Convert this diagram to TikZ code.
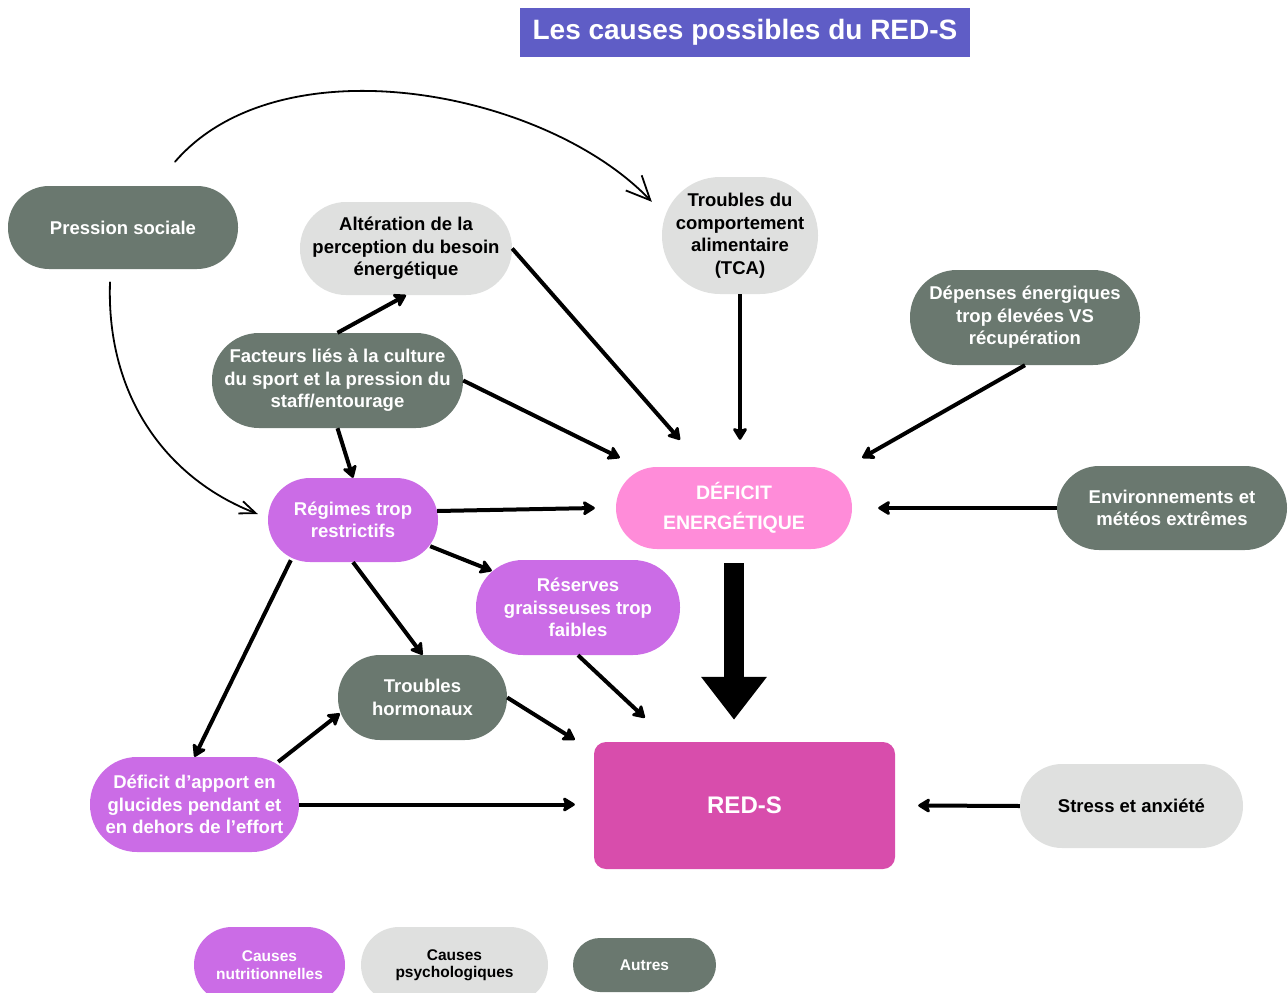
\documentclass[tikz,border=0pt]{standalone}
\usepackage{fontspec}
\setmainfont{Liberation Sans}
\usetikzlibrary{arrows.meta,calc}
\definecolor{titleblue}{RGB}{95,93,198}
\definecolor{othergrey}{RGB}{106,120,111}
\definecolor{psygrey}{RGB}{223,224,223}
\definecolor{nutpurple}{RGB}{203,108,230}
\definecolor{defpink}{RGB}{255,140,217}
\definecolor{redspink}{RGB}{216,77,172}
\begin{document}
\begin{tikzpicture}[x=1pt,y=-1pt,
		cause/.style={align=center, inner sep=0pt, font=\bfseries\fontsize{18.5}{22.5}\selectfont},
		nut/.style={cause, fill=nutpurple, text=white},
		psy/.style={cause, fill=psygrey, text=black},
		other/.style={cause, fill=othergrey, text=white},
		legend/.style={font=\bfseries\fontsize{15.5}{17.5}\selectfont},
		arr/.style={line width=4pt, -{Stealth[length=14pt,width=17pt,inset=3pt,round]}},
		thinarr/.style={line width=1.8pt, line cap=round},
		bigarr/.style={line width=20pt, -{Triangle[length=43pt,width=63pt]}}]
			\useasboundingbox (0,0) rectangle (1288,993);
			\node	(title) at (745,32.5) [fill=titleblue, text=white, minimum width=450pt, minimum height=49pt, font=\bfseries\fontsize{28}{30}\selectfont] {Les causes possibles du RED-S};
			
			\node	(soc) at (123,227.5) [other, minimum width=230pt, minimum height=83pt, rounded corners=41pt] {Pression sociale};
			\node	(alt) at (406,248.5) [psy, minimum width=212pt, minimum height=93pt, rounded corners=46pt] {Altération de la\\perception du besoin\\énergétique};
			\node	(tca) at (740,235.5) [psy, minimum width=156pt, minimum height=117pt, rounded corners=58pt] {Troubles du\\comportement\\alimentaire\\(TCA)};
			\node	(dep) at (1025,317.5) [other, minimum width=230pt, minimum height=95pt, rounded corners=47pt] {Dépenses énergiques\\trop élevées VS\\récupération};
			\node	(fac) at (337.5,380.5) [other, minimum width=251pt, minimum height=95pt, rounded corners=47pt] {Facteurs liés à la culture\\du sport et la pression du\\staff/entourage};
			\node	(def) at (734,508) [fill=defpink, text=white, align=center, minimum width=236pt, minimum height=82pt, rounded corners=41pt, font=\bfseries\fontsize{19.5}{30}\selectfont] {DÉFICIT\\ENERGÉTIQUE};
			\node	(env) at (1172,508) [other, minimum width=230pt, minimum height=84pt, rounded corners=42pt] {Environnements et\\météos extrêmes};
			\node	(reg) at (353,520) [nut, minimum width=170pt, minimum height=84pt, rounded corners=42pt] {Régimes trop\\restrictifs};
			\node	(res) at (578,607.5) [nut, minimum width=204pt, minimum height=95pt, rounded corners=47pt] {Réserves\\graisseuses trop\\faibles};
			\node	(hor) at (422.5,697.5) [other, minimum width=169pt, minimum height=85pt, rounded corners=42pt] {Troubles\\hormonaux};
			\node	(app) at (194.5,804.5) [nut, minimum width=209pt, minimum height=95pt, rounded corners=47pt] {Déficit d’apport en\\glucides pendant et\\en dehors de l’effort};
			\node	(red) at (744.5,805.5) [fill=redspink, text=white, minimum width=301pt, minimum height=127pt, rounded corners=12pt, font=\bfseries\fontsize{24}{28}\selectfont] {RED-S};
			\node	(str) at (1131.5,806) [psy, minimum width=223pt, minimum height=84pt, rounded corners=42pt] {Stress et anxiété};
			
			\node	(lnut) at (269.5,965) [nut, legend, minimum width=151pt, minimum height=76pt, rounded corners=38pt] {Causes\\nutritionnelles};
			\node	(lpsy) at (454.5,965) [psy, legend, minimum width=187pt, minimum height=76pt, rounded corners=38pt] {Causes\\psychologiques};
			\node	(loth) at (644.5,965) [other, legend, minimum width=143pt, minimum height=54pt, rounded corners=27pt] {Autres};
			
			\draw[thinarr, -{Straight Barb[length=24pt,width=22pt]}] ($(soc.north)+(52,-24)$) .. controls (280,40) and (545,90) .. ($(tca.north west)+(-10,25)$);
			\draw[thinarr, -{Straight Barb[length=16pt,width=13pt]}] ($(soc.south)+(-13,13)$) .. controls (106,400) and (170,480) .. ($(reg.west)+(-10,-6)$);
			
			\draw 
			(fac.north) edge[arr] (alt.south)
			(alt.east) edge[arr] ($(def.north)+(-54,-27)$)
			(fac.east) edge[arr] ($(def.north west)+(4,-9)$)
			(tca.south) edge[arr] ($(tca.south |- def.north)+(0,-27)$)
			(dep.south) edge[arr] ($(def.north east)+(10,-9)$)
			(env.west) edge[arr] ($(def.east)+(26,0)$)
			(fac.south) edge[arr] (reg.north)
			($(reg.east)+(-1,-9)$) edge[arr] ($(def.west)+(-21,0)$)
			($(reg.south east)+(-8,-16)$) edge[arr] ($(res.north west)+(16,11)$)
			(reg.south) edge[arr] (hor.north)
			($(reg.south west)+(23,-2)$) edge[arr] (app.north)
			($(app.north east)+(-21,5)$) edge[arr] ($(hor.west)+(2,16)$)
			(app.east) edge[arr] ($(red.west)+(-19,-1)$)
			(hor.east) edge[arr] ($(red.north west)+(-19,-2)$)
			(res.south) edge[arr] ($(red.north west)+(51,-24)$)
			(str.west) edge[arr] ($(red.east)+(23,0)$)
			;
			\draw[bigarr] ($(def.south)+(0,14)$) -- ($(def.south |- red.north)+(0,-22)$);
		\end{tikzpicture}
\end{document}
